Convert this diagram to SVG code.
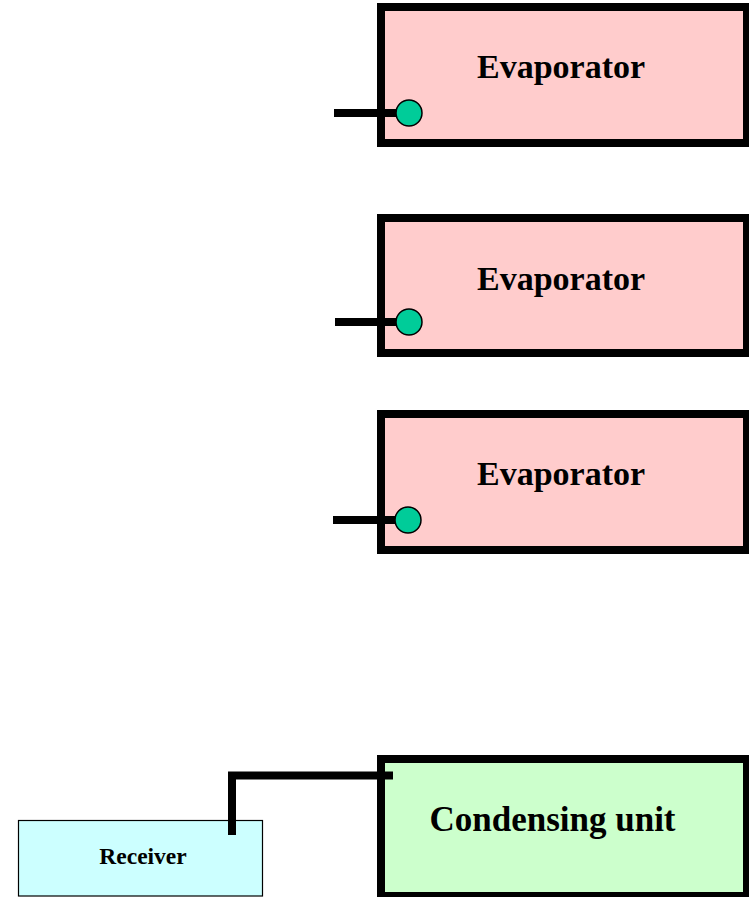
<svg xmlns="http://www.w3.org/2000/svg" width="749" height="897" viewBox="0 0 749 897">
<style>
.evap{fill:#FFCCCC;stroke:#000;stroke-width:8}
.cond{fill:#CCFFCC;stroke:#000;stroke-width:8}
.recv{fill:#CCFFFF;stroke:#000;stroke-width:1.2}
.pipe{fill:none;stroke:#000;stroke-width:8}
.port{fill:#00CC99;stroke:#000;stroke-width:1.5}
.big{font-family:"Liberation Serif","Times New Roman",serif;font-weight:bold;font-size:34px;text-anchor:middle;fill:#000}
.small{font-family:"Liberation Serif","Times New Roman",serif;font-weight:bold;font-size:23.5px;text-anchor:middle;fill:#000}
</style>
<rect width="749" height="897" fill="#fff"/>
<g id="evaporator1">
<rect class="evap" x="381" y="7" width="366" height="136"/>
<text class="big" x="561" y="78">Evaporator</text>
</g>
<g id="evaporator2">
<rect class="evap" x="381" y="218" width="366" height="135"/>
<text class="big" x="561" y="290">Evaporator</text>
</g>
<g id="evaporator3">
<rect class="evap" x="381" y="414" width="366" height="136"/>
<text class="big" x="561" y="485">Evaporator</text>
</g>
<g id="condensing-unit">
<rect class="cond" x="381" y="759" width="366" height="137"/>
<text class="big" x="552.5" y="831" style="font-size:35px">Condensing unit</text>
</g>
<g id="receiver">
<rect class="recv" x="18.5" y="820.5" width="244" height="75.5"/>
<text class="small" x="143" y="864">Receiver</text>
</g>
<g id="connectors">
<line class="pipe" x1="334" y1="113" x2="400" y2="113"/>
<line class="pipe" x1="335" y1="322" x2="400" y2="322"/>
<line class="pipe" x1="333" y1="520" x2="400" y2="520"/>
<polyline class="pipe" points="232,835 232,775.5 393,775.5"/>
<circle class="port" cx="409" cy="113" r="13"/>
<circle class="port" cx="409" cy="322" r="13"/>
<circle class="port" cx="408" cy="520" r="13"/>
</g>
</svg>
